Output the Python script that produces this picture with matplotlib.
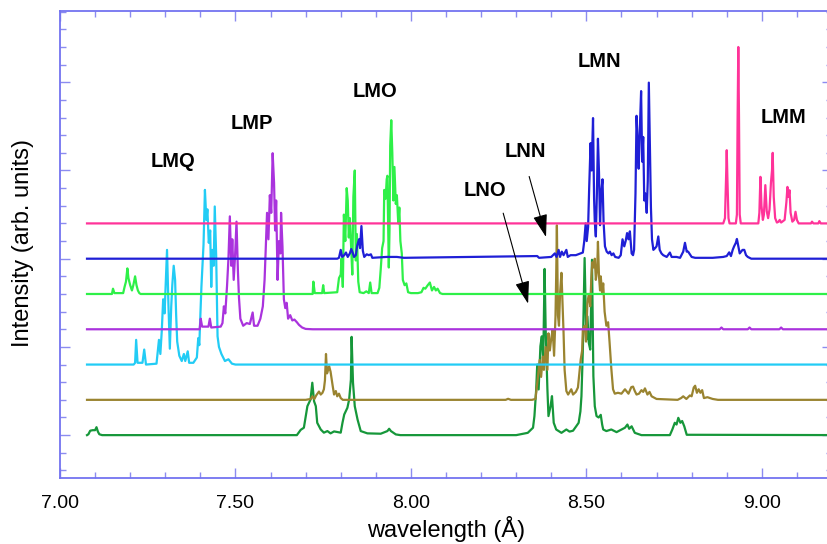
"""
Stacked X-ray emission spectra (LMM ... LMQ satellite groups)
"""

import numpy as np
import matplotlib

matplotlib.use("Agg")
import matplotlib.pyplot as plt  # noqa: E402
from matplotlib.ticker import MultipleLocator, FixedLocator, FormatStrFormatter  # noqa: E402

# spectra: (wavelength in Å, intensity above own baseline)
dkgreen_pts = [
    (7.077, 0), (7.081, 0.05), (7.086, 0.25), (7.093, 0.28), (7.100, 0.28), (7.104, 0.45), (7.108, 0.2),
    (7.112, 0.05), (7.12, 0),
    (7.675, 0), (7.686, 0.3), (7.695, 0.42), (7.705, 1.64), (7.714, 2.02), (7.719, 2.97), (7.724, 1.92),
    (7.729, 1.64), (7.733, 0.7), (7.743, 0.32), (7.752, 0.14), (7.762, 0.23), (7.771, 0.1), (7.781, 0.21),
    (7.80, 0.14), (7.805, 0.7), (7.81, 1.17), (7.819, 1.55), (7.824, 2.02), (7.829, 3.15), (7.831, 5.57),
    (7.835, 2.97), (7.84, 1.64), (7.848, 0.88), (7.857, 0.23), (7.876, 0.1), (7.914, 0.08), (7.933, 0.23),
    (7.938, 0.36), (7.943, 0.23), (7.957, 0.04), (7.97, 0),
    (8.30, 0), (8.333, 0.13), (8.348, 0.42), (8.352, 1.08), (8.357, 2.59), (8.36, 4.0), (8.364, 2.59),
    (8.369, 5.04), (8.373, 5.6), (8.377, 4.09), (8.381, 9.42), (8.384, 6.0), (8.389, 2.59), (8.392, 1.08),
    (8.398, 1.64), (8.402, 2.21), (8.407, 0.7), (8.414, 0.32), (8.429, 0.13), (8.443, 0.32), (8.452, 0.2),
    (8.462, 0.25), (8.471, 0.5), (8.478, 0.7), (8.483, 1.34), (8.486, 2.21), (8.49, 4.85), (8.495, 10.04),
    (8.5, 5.41), (8.503, 6.73), (8.507, 5.22), (8.511, 4.85), (8.516, 9.94), (8.52, 3.34), (8.524, 1.64),
    (8.529, 1.08), (8.535, 1.0), (8.541, 1.15), (8.545, 0.6), (8.548, 0.32), (8.557, 0.23), (8.571, 0.32),
    (8.586, 0.17), (8.61, 0.42), (8.617, 0.6), (8.622, 0.36), (8.629, 0.5), (8.638, 0.13), (8.657, 0),
    (8.738, 0), (8.745, 0.32), (8.752, 0.7), (8.757, 0.6), (8.762, 0.98), (8.768, 0.7), (8.773, 0.8),
    (8.779, 0.5), (8.786, 0.02), (9.25, 0),
]

olive_pts = [
    (7.077, 0), (7.70, 0), (7.715, 0.05), (7.719, 0.2), (7.725, 0.05), (7.73, 0.25), (7.738, 0.47),
    (7.743, 0.3), (7.748, 0.4), (7.752, 0.6), (7.755, 1.1), (7.758, 2.6), (7.761, 1.5), (7.764, 1.7),
    (7.767, 1.9), (7.771, 1.6), (7.774, 1.2), (7.777, 0.8), (7.781, 0.3), (7.786, 0.5), (7.79, 0.2),
    (7.795, 0.35), (7.80, 0.1), (7.806, 0),
    (8.27, 0), (8.277, 0.06), (8.285, 0), (8.345, 0), (8.355, 0.05), (8.362, 1.3), (8.367, 2.26),
    (8.371, 1.3), (8.376, 2.45), (8.379, 1.7), (8.384, 3.0), (8.389, 1.7), (8.392, 3.77), (8.396, 2.8),
    (8.40, 3.5), (8.404, 3.96), (8.408, 2.5), (8.412, 4.7), (8.414, 7.0), (8.416, 9.89), (8.419, 4.8),
    (8.422, 4.2), (8.425, 6.0), (8.429, 7.2), (8.432, 5.5), (8.435, 3.8), (8.438, 1.7), (8.443, 0.5),
    (8.448, 0.3), (8.457, 0.6), (8.462, 0.3), (8.47, 0.45), (8.476, 0.7), (8.48, 1.5), (8.484, 2.3),
    (8.488, 2.8), (8.49, 4.0), (8.495, 4.2), (8.499, 3.3), (8.503, 5.5), (8.507, 6.0), (8.511, 5.3),
    (8.514, 6.8), (8.517, 7.8), (8.52, 7.5), (8.524, 8.0), (8.527, 6.8), (8.531, 7.5), (8.533, 8.96),
    (8.536, 7.0), (8.539, 6.2), (8.541, 7.0), (8.545, 6.0), (8.548, 6.6), (8.552, 5.0), (8.557, 4.2),
    (8.562, 4.4), (8.566, 3.3), (8.571, 1.8), (8.576, 0.6), (8.581, 0.35), (8.59, 0.4), (8.60, 0.35),
    (8.61, 0.6), (8.62, 0.35), (8.628, 0.72), (8.633, 0.75), (8.638, 0.5), (8.643, 0.3), (8.65, 0.35),
    (8.657, 0.55), (8.662, 0.45), (8.667, 0.65), (8.674, 0.3), (8.68, 0.45), (8.686, 0.2), (8.70, 0.05),
    (8.76, 0.0), (8.77, 0.1), (8.776, 0.2), (8.785, 0.05), (8.795, 0.25), (8.80, 0.2), (8.806, 0.7),
    (8.81, 0.8), (8.815, 0.4), (8.82, 0.6), (8.825, 0.4), (8.83, 0.55), (8.835, 0.1), (8.845, 0.15),
    (8.86, 0.05), (8.875, 0), (9.25, 0),
]

cyan_pts = [
    (7.077, 0), (7.21, 0), (7.214, 0.1), (7.217, 1.4), (7.221, 0.1), (7.235, 0.1), (7.24, 0.85), (7.245, 0),
    (7.275, 0.05), (7.282, 1.4), (7.286, 0.6), (7.29, 1.9), (7.294, 3.7), (7.298, 2.9), (7.305, 6.5),
    (7.309, 3.4), (7.313, 0.9), (7.317, 3.3), (7.32, 4.5), (7.324, 5.6), (7.328, 4.8), (7.331, 2.8),
    (7.334, 1.3), (7.34, 0.5), (7.347, 0.2), (7.353, 0.6), (7.357, 0.2), (7.364, 0.75), (7.368, 0.1),
    (7.38, 0.1), (7.39, 0.4), (7.394, 1.5), (7.397, 1.1), (7.40, 2.8), (7.403, 4.4), (7.406, 5.6),
    (7.409, 6.8), (7.413, 9.9), (7.417, 8.2), (7.42, 8.8), (7.424, 6.9), (7.428, 7.6), (7.431, 4.4),
    (7.434, 6.5), (7.438, 5.6), (7.441, 8.96), (7.445, 6.2), (7.449, 1.6), (7.453, 1.0), (7.46, 0.6),
    (7.47, 0.2), (7.48, 0.3), (7.49, 0.05), (7.50, 0), (9.25, 0),
]

purple_pts = [
    (7.077, 0), (7.398, 0), (7.401, 0.6), (7.405, 0.15), (7.423, 0.15), (7.427, 0.6), (7.431, 0.1),
    (7.458, 0.15), (7.463, 0.35), (7.467, 1.3), (7.471, 0.9), (7.476, 2.45), (7.48, 4.0), (7.484, 6.4),
    (7.488, 3.6), (7.491, 5.1), (7.495, 2.8), (7.499, 4.2), (7.503, 6.1), (7.507, 3.3), (7.51, 1.8),
    (7.514, 0.6), (7.522, 0.2), (7.532, 0.35), (7.541, 0.3), (7.549, 0.95), (7.553, 0.2), (7.563, 0.2),
    (7.571, 0.6), (7.578, 1.3), (7.583, 2.8), (7.586, 4.4), (7.59, 6.6), (7.594, 5.1), (7.598, 7.6),
    (7.602, 6.6), (7.606, 9.98), (7.61, 8.3), (7.613, 5.6), (7.616, 7.3), (7.62, 2.8), (7.624, 5.0),
    (7.628, 4.3), (7.63, 6.6), (7.634, 4.7), (7.638, 1.7), (7.642, 1.2), (7.646, 1.5), (7.65, 0.6),
    (7.656, 0.8), (7.662, 0.5), (7.668, 0.55), (7.675, 0.4), (7.681, 0.25), (7.69, 0.1), (7.70, 0.02),
    (7.72, 0), (8.88, 0), (8.885, 0.1), (8.89, 0), (8.96, 0), (8.965, 0.1), (8.97, 0), (9.05, 0),
    (9.055, 0.1), (9.06, 0), (9.25, 0),
]

brgreen_pts = [
    (7.077, 0), (7.148, 0), (7.151, 0.3), (7.155, 0.05), (7.18, 0.05), (7.184, 0.4), (7.188, 0.7),
    (7.192, 1.45), (7.195, 0.9), (7.2, 0.5), (7.205, 0.2), (7.209, 0.5), (7.214, 1.0), (7.218, 0.5),
    (7.222, 0.2), (7.226, 0.05), (7.23, 0),
    (7.72, 0), (7.722, 0.7), (7.726, 0.05), (7.747, 0.05), (7.75, 0.5), (7.753, 0.05), (7.79, 0.1),
    (7.795, 0.9), (7.80, 1.1), (7.802, 2.0), (7.806, 0.4), (7.809, 4.5), (7.813, 3.0), (7.817, 6.0),
    (7.82, 5.3), (7.823, 3.2), (7.826, 4.3), (7.83, 2.5), (7.833, 1.1), (7.836, 5.5), (7.84, 7.0),
    (7.843, 1.9), (7.846, 3.4), (7.85, 0.7), (7.854, 0.1), (7.865, 0.05), (7.873, 0.15), (7.88, 0.05),
    (7.884, 0.65), (7.888, 0.05), (7.905, 0.05), (7.91, 0.35), (7.914, 1.4), (7.918, 2.6), (7.922, 3.0),
    (7.924, 5.9), (7.928, 5.4), (7.931, 6.5), (7.933, 6.7), (7.937, 1.5), (7.939, 3.6), (7.941, 8.4),
    (7.944, 9.85), (7.947, 8.0), (7.95, 5.3), (7.953, 7.2), (7.957, 5.1), (7.96, 5.6), (7.964, 4.0),
    (7.967, 4.9), (7.97, 3.0), (7.974, 2.3), (7.977, 0.8), (7.982, 0.5), (7.987, 0.6), (7.992, 0.1),
    (8.00, 0.05), (8.02, 0.05), (8.03, 0.1), (8.036, 0.35), (8.041, 0.3), (8.048, 0.5), (8.054, 0.65),
    (8.06, 0.2), (8.066, 0.4), (8.071, 0.2), (8.076, 0.3), (8.083, 0.05), (8.09, 0), (9.25, 0),
]

blue_pts = [
    (7.077, 0), (7.79, 0), (7.795, 0.05), (7.80, 0.5), (7.804, 0.1), (7.81, 0.2), (7.815, 0.35),
    (7.82, 0.1), (7.826, 0.3), (7.83, 0.55), (7.834, 0.35), (7.838, 0.1), (7.843, 0.2), (7.847, 0.75),
    (7.852, 1.1), (7.855, 0.6), (7.859, 1.85), (7.863, 0.45), (7.867, 0.1), (7.874, 0.25), (7.88, 0.2),
    (7.886, 0.25), (7.89, 0.05), (7.93, 0.1), (7.96, 0.1), (7.98, 0.05), (8.36, 0.15), (8.365, 0.05),
    (8.40, 0.1), (8.41, 0.3), (8.415, 0.1), (8.421, 0.5), (8.425, 0.1), (8.43, 0.4), (8.435, 0.2),
    (8.443, 0.5), (8.447, 0.1), (8.455, 0.2), (8.47, 0.2), (8.483, 0.3), (8.49, 0.35), (8.494, 1.0),
    (8.498, 2.0), (8.501, 1.0), (8.505, 1.8), (8.508, 4.0), (8.512, 6.55), (8.515, 5.0), (8.519, 7.97),
    (8.522, 3.4), (8.524, 2.1), (8.527, 1.26), (8.53, 3.7), (8.533, 6.8), (8.536, 4.9), (8.539, 1.9),
    (8.542, 3.7), (8.546, 4.5), (8.549, 2.1), (8.553, 0.7), (8.558, 0.4), (8.563, 0.3), (8.567, 0.4),
    (8.572, 0.2), (8.577, 0.3), (8.582, 0.1), (8.592, 0.05), (8.598, 0.2), (8.603, 1.1), (8.608, 0.7),
    (8.612, 1.0), (8.616, 1.45), (8.62, 1.1), (8.624, 1.55), (8.629, 0.3), (8.633, 0.2), (8.636, 0.5),
    (8.64, 3.7), (8.643, 8.1), (8.646, 6.7), (8.649, 5.1), (8.652, 7.1), (8.656, 9.5), (8.659, 5.5),
    (8.662, 6.9), (8.665, 3.3), (8.668, 3.7), (8.672, 2.6), (8.675, 4.4), (8.678, 9.98), (8.681, 6.5),
    (8.684, 2.9), (8.687, 1.1), (8.691, 0.5), (8.696, 0.6), (8.70, 0.7), (8.705, 1.26), (8.709, 0.5),
    (8.714, 0.3), (8.719, 0.2), (8.729, 0.1), (8.738, 0.35), (8.743, 0.1), (8.757, 0.1), (8.767, 0.05),
    (8.776, 0.4), (8.781, 0.9), (8.786, 0.4), (8.79, 0.4), (8.80, 0.1), (8.81, 0.05), (8.86, 0.05),
    (8.89, 0.1), (8.90, 0.15), (8.907, 0.36), (8.912, 0.15), (8.917, 0.5), (8.921, 0.7), (8.926, 0.9),
    (8.929, 1.12), (8.933, 0.7), (8.937, 0.3), (8.941, 0.4), (8.945, 0.5), (8.95, 0.5), (8.955, 0.2),
    (8.96, 0.1), (8.97, 0), (9.25, 0),
]

pink_pts = [
    (7.077, 0), (8.89, 0), (8.895, 0.3), (8.898, 2.5), (8.90, 4.15), (8.902, 2.5), (8.905, 0.3), (8.908, 0),
    (8.926, 0), (8.929, 0.5), (8.931, 6.0), (8.933, 10.0), (8.935, 6.0), (8.937, 0.5), (8.94, 0),
    (8.99, 0), (8.993, 0.6), (8.996, 2.64), (8.999, 1.0), (9.003, 0.2), (9.006, 0.5), (9.01, 2.17),
    (9.014, 0.7), (9.018, 0.3), (9.022, 0.8), (9.026, 2.3), (9.029, 3.0), (9.031, 4.0), (9.034, 1.5),
    (9.038, 0.3), (9.043, 0.05), (9.048, 0.1), (9.051, 0.2), (9.055, 0.05), (9.065, 0.2), (9.07, 1.2),
    (9.073, 2.07), (9.076, 1.5), (9.079, 1.88), (9.082, 0.6), (9.087, 0.1), (9.092, 0.2), (9.096, 0.66),
    (9.10, 0.2), (9.105, 0), (9.14, 0), (9.143, 0.1), (9.147, 0), (9.161, 0), (9.164, 0.13), (9.168, 0),
    (9.25, 0),
]

# stacking order from bottom to top, and the vertical offset of each trace
series = [dkgreen_pts, olive_pts, cyan_pts, purple_pts, brgreen_pts, blue_pts, pink_pts]
offsets = [2, 4, 6, 8, 10, 12, 14]
colors = ["#16973a", "#9a8430", "#22ccf5", "#aa33dd", "#2ef048", "#1f1fd6", "#ff3399"]

# group labels: (text, wavelength, height)
group_labels = [
    ("LMQ", 7.321, 17.5),
    ("LMP", 7.547, 19.67),
    ("LMO", 7.899, 21.45),
    ("LMN", 8.537, 23.19),
    ("LMM", 9.062, 19.98),
    ("LNN", 8.325, 18.09),
    ("LNO", 8.21, 15.87),
]
# arrows: (start, tip)
arrows = [
    ((8.337, 16.66), (8.385, 13.23)),
    ((8.263, 14.58), (8.334, 9.45)),
]

plt.rcParams["font.family"] = ["Liberation Sans", "DejaVu Sans"]

W, H = 827, 544
fig = plt.figure(figsize=(W / 100, H / 100), dpi=100)
ax = fig.add_axes([60 / W, 1 - 478 / H, 772 / W, 467 / H])

for pts, off, col in zip(series, offsets, colors):
    arr = np.array(pts, dtype=float)
    ax.plot(arr[:, 0], arr[:, 1] + off, color=col, linewidth=1.6)

ax.set_xlim(7.0, 9.2)
ax.set_ylim(-0.43, 26.04)

# axis frame and ticks
frame_color = "#7373f0"
for sp in ax.spines.values():
    sp.set_color(frame_color)
    sp.set_linewidth(1.3)

ax.xaxis.set_major_locator(MultipleLocator(0.5))
ax.xaxis.set_minor_locator(MultipleLocator(0.1))
ax.xaxis.set_major_formatter(FormatStrFormatter("%.2f"))
ax.yaxis.set_major_locator(FixedLocator([2, 7, 12, 17, 22]))
ax.yaxis.set_minor_locator(MultipleLocator(1))
ax.tick_params(which="both", direction="in", top=True, right=True, color="#8c8cf0", width=1.0)
ax.tick_params(which="major", length=7.5)
ax.tick_params(which="minor", length=4.5)
ax.tick_params(axis="x", labelsize=14, pad=12)
ax.tick_params(axis="y", labelleft=False)

for txt, xw, yh in group_labels:
    ax.text(xw, yh, txt, fontsize=14.5, fontweight="bold", ha="center", va="center")

for start, tip in arrows:
    ax.annotate("", xy=tip, xytext=start,
                arrowprops=dict(arrowstyle="-|>,head_length=0.7,head_width=0.22", mutation_scale=20,
                                color="black", lw=0.8, shrinkA=0, shrinkB=0))

fig.text(446 / W, 1 - 529 / H, "wavelength (Å)", fontsize=17, ha="center", va="center")
fig.text(23 / W, 1 - 243 / H, "Intensity (arb. units)", fontsize=17, ha="center", va="center", rotation=90)

fig.savefig("out.png", dpi=100, facecolor="white")
plt.close(fig)
